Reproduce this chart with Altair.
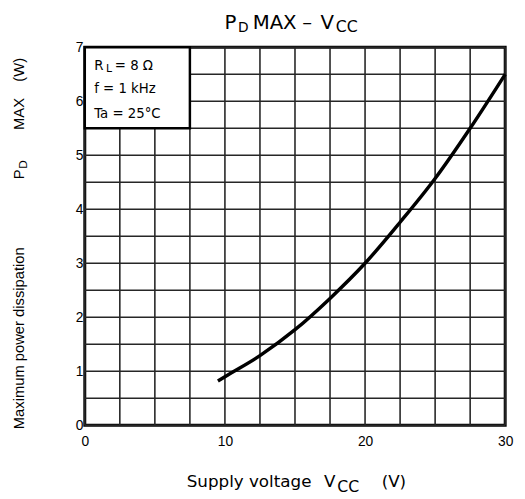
import altair as alt
import pandas as pd

# Curve
vcc = [9.5, 10, 12.5, 15, 17.5, 20, 22.5, 25, 27.5, 30]
pd_max = [0.82, 0.9, 1.29, 1.77, 2.35, 3.0, 3.76, 4.57, 5.5, 6.5]

# Grid lines and labelled ticks
x_grid = [0, 2.5, 5, 7.5, 10, 12.5, 15, 17.5, 20, 22.5, 25, 27.5, 30]
y_grid = [0, 0.5, 1, 1.5, 2, 2.5, 3, 3.5, 4, 4.5, 5, 5.5, 6, 6.5, 7]
x_ticks = [0, 10, 20, 30]
y_ticks = [0, 1, 2, 3, 4, 5, 6, 7]

df = pd.DataFrame({"vcc": vcc, "pd": pd_max})
xg = pd.DataFrame({"vcc": x_grid})
yg = pd.DataFrame({"pd": y_grid})

LIB = "Liberation Sans"
DJV = "DejaVu Sans"

xs = alt.Scale(domain=[0, 30], nice=False, zero=False)
ys = alt.Scale(domain=[0, 7], nice=False, zero=False)

x_axis = alt.Axis(
    values=x_ticks, format="d", title=None, grid=False,
    ticks=False, domain=False, labelFont=LIB, labelFontSize=14,
    labelColor="black", labelPadding=10, labelFlush=False,
)
y_axis = alt.Axis(
    values=y_ticks, format="d", title=None, grid=False,
    ticks=False, domain=False, labelFont=LIB, labelFontSize=14,
    labelColor="black", labelPadding=2, labelFlush=False,
)
x_enc = alt.X("vcc:Q", scale=xs, axis=x_axis)
y_enc = alt.Y("pd:Q", scale=ys, axis=y_axis)

GRID = "#262626"
vgrid = alt.Chart(xg).mark_rule(color=GRID, strokeWidth=1.6).encode(x=x_enc)
hgrid = alt.Chart(yg).mark_rule(color=GRID, strokeWidth=1.6).encode(y=y_enc)

curve = alt.Chart(df).mark_line(
    color="black", strokeWidth=3.5, interpolate="monotone"
).encode(x=x_enc, y=y_enc)

box = alt.Chart(alt.Data(values=[{}])).mark_rect(
    fill="white", stroke="black", strokeWidth=2.5
).encode(
    x=alt.datum(0), x2=alt.datum(7.5), y=alt.datum(5.5), y2=alt.datum(7)
)


def label(text, x, y, size, font=DJV, angle=0):
    kw = dict(text=text, font=font, fontSize=size, align="left",
              baseline="alphabetic", color="black")
    if angle:
        kw["angle"] = angle
    return alt.Chart(alt.Data(values=[{}])).mark_text(**kw).encode(
        x=alt.value(x), y=alt.value(y)
    )


texts = [
    # title
    label("P", 142, -18.3, 20),
    label("D", 155.5, -15.5, 14),
    label("MAX", 170.5, -18.3, 20),
    label("\u2013", 221, -18.3, 20),
    label("V", 239.5, -18.3, 20),
    label("CC", 255, -15.5, 16),
    # legend box text
    label("R", 9.5, 22.7, 13.5),
    label("L", 21.5, 25.5, 11),
    label("= 8 \u03a9", 30.5, 22.7, 13.5),
    label("f = 1 kHz", 9.5, 46.7, 13.5),
    label("Ta = 25\u00b0C", 9.5, 71.7, 13.5),
    # x axis title
    label("Supply voltage", 103.5, 447, 17),
    label("V", 243, 447, 17),
    label("CC", 256.5, 452, 16),
    label("(V)", 301.5, 447, 17),
    # y axis title (rotated)
    label("Maximum power dissipation", -61.5, 388, 15, font=LIB, angle=270),
    label("P", -61.5, 134, 15, font=LIB, angle=270),
    label("D", -58.5, 123.5, 12, font=LIB, angle=270),
    label("MAX", -61.5, 84, 15, font=LIB, angle=270),
    label("(W)", -61.5, 35, 15, font=LIB, angle=270),
]

chart = alt.layer(vgrid, hgrid, curve, box, *texts).properties(
    width=427,
    height=384,
    autosize=alt.AutoSizeParams(type="none"),
    padding={"left": 78, "top": 36, "right": 12, "bottom": 71},
    background="white",
).configure_view(stroke="black", strokeWidth=3)

chart.save("out.html", embed_options={"renderer": "svg", "actions": False})
